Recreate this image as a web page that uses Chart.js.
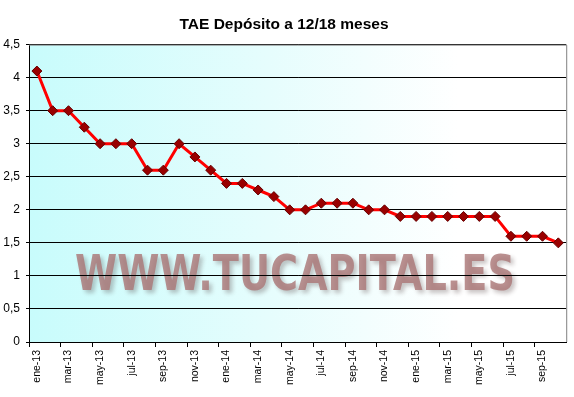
<!DOCTYPE html>
<html>
<head>
<meta charset="utf-8">
<script src="https://cdn.jsdelivr.net/npm/chart.js@4"></script>
<style>
  html, body { margin: 0; padding: 0; background: #fff; }
  #wrap { width: 574px; height: 397px; }
</style>
</head>
<body>
<div id="wrap"><canvas id="tae"></canvas></div>
<script>
const meses = [
  "ene-13","feb-13","mar-13","abr-13","may-13","jun-13","jul-13","ago-13","sep-13","oct-13","nov-13","dic-13",
  "ene-14","feb-14","mar-14","abr-14","may-14","jun-14","jul-14","ago-14","sep-14","oct-14","nov-14","dic-14",
  "ene-15","feb-15","mar-15","abr-15","may-15","jun-15","jul-15","ago-15","sep-15","oct-15"
];
const tae = [
  4.1, 3.5, 3.5, 3.25, 3.0, 3.0, 3.0, 2.6, 2.6, 3.0, 2.8, 2.6,
  2.4, 2.4, 2.3, 2.2, 2.0, 2.0, 2.1, 2.1, 2.1, 2.0, 2.0, 1.9,
  1.9, 1.9, 1.9, 1.9, 1.9, 1.9, 1.6, 1.6, 1.6, 1.5
];
const titulo = "TAE Depósito a 12/18 meses";
const marcaAgua = "WWW.TUCAPITAL.ES";

// fondo degradado + marca de agua, antes de la rejilla
const fondo = {
  id: 'fondo',
  beforeDraw(chart) {
    const { ctx, chartArea: a } = chart;
    ctx.save();
    const g = ctx.createLinearGradient(a.left, 0, a.right, 0);
    g.addColorStop(0, '#c8fcfc');
    g.addColorStop(0.45, '#e6fdfd');
    g.addColorStop(0.8, '#ffffff');
    g.addColorStop(1, '#ffffff');
    ctx.fillStyle = g;
    ctx.fillRect(a.left, a.top, a.right - a.left, a.bottom - a.top);

    ctx.font = 'bold 50px "DejaVu Sans"';
    ctx.textAlign = 'center';
    ctx.textBaseline = 'alphabetic';
    ctx.shadowColor = 'rgba(60,40,40,0.35)';
    ctx.shadowBlur = 4;
    ctx.shadowOffsetX = 3;
    ctx.shadowOffsetY = 3;
    ctx.fillStyle = 'rgba(170,118,118,0.8)';
    ctx.fillText(marcaAgua, 295, 290, 440);
    ctx.restore();
  },
  afterDraw(chart) {
    const { ctx, chartArea: a } = chart;
    ctx.save();
    ctx.strokeStyle = '#808080';
    ctx.lineWidth = 1;
    ctx.beginPath();
    ctx.moveTo(a.left, a.top + 0.5);
    ctx.lineTo(a.right + 0.5, a.top + 0.5);
    ctx.lineTo(a.right + 0.5, a.bottom);
    ctx.stroke();
    ctx.restore();
  }
};

new Chart(document.getElementById('tae'), {
  type: 'line',
  plugins: [fondo],
  data: {
    labels: meses,
    datasets: [{
      data: tae,
      borderColor: '#ff0000',
      borderWidth: 3,
      tension: 0,
      pointStyle: 'rectRot',
      pointRadius: 5,
      pointBackgroundColor: '#990000',
      pointBorderColor: '#660000',
      pointBorderWidth: 1
    }]
  },
  options: {
    responsive: true,
    maintainAspectRatio: false,
    animation: false,
    layout: { padding: { right: 6 } },
    plugins: {
      legend: { display: false },
      tooltip: { enabled: false },
      title: {
        display: true,
        text: titulo,
        color: '#000',
        font: { family: 'Liberation Sans', size: 15.5, weight: 'bold' },
        padding: { top: 15, bottom: 11 }
      }
    },
    scales: {
      x: {
        offset: true,
        grid: {
          offset: true,
          drawOnChartArea: false,
          drawTicks: true,
          tickLength: 5,
          color: (c) => c.index % 2 === 0 ? '#000' : 'rgba(0,0,0,0)'
        },
        border: { display: true, color: '#000', width: 1 },
        ticks: {
          autoSkip: false,
          maxRotation: 90,
          minRotation: 90,
          padding: 3,
          color: '#000',
          font: { family: 'Liberation Sans', size: 10.5 },
          callback: (v, i) => i % 2 === 0 ? meses[i] : ''
        },
        afterFit: (s) => { s.height = 55; }
      },
      y: {
        min: 0,
        max: 4.5,
        grid: {
          color: '#000',
          lineWidth: 1,
          tickLength: 3
        },
        border: { display: true, color: '#000', width: 1 },
        ticks: {
          stepSize: 0.5,
          padding: 6,
          color: '#000',
          font: { family: 'Liberation Sans', size: 12 },
          callback: (v) => String(v).replace('.', ',')
        },
        afterFit: (s) => { s.width = 29; }
      }
    }
  }
});
</script>
</body>
</html>
